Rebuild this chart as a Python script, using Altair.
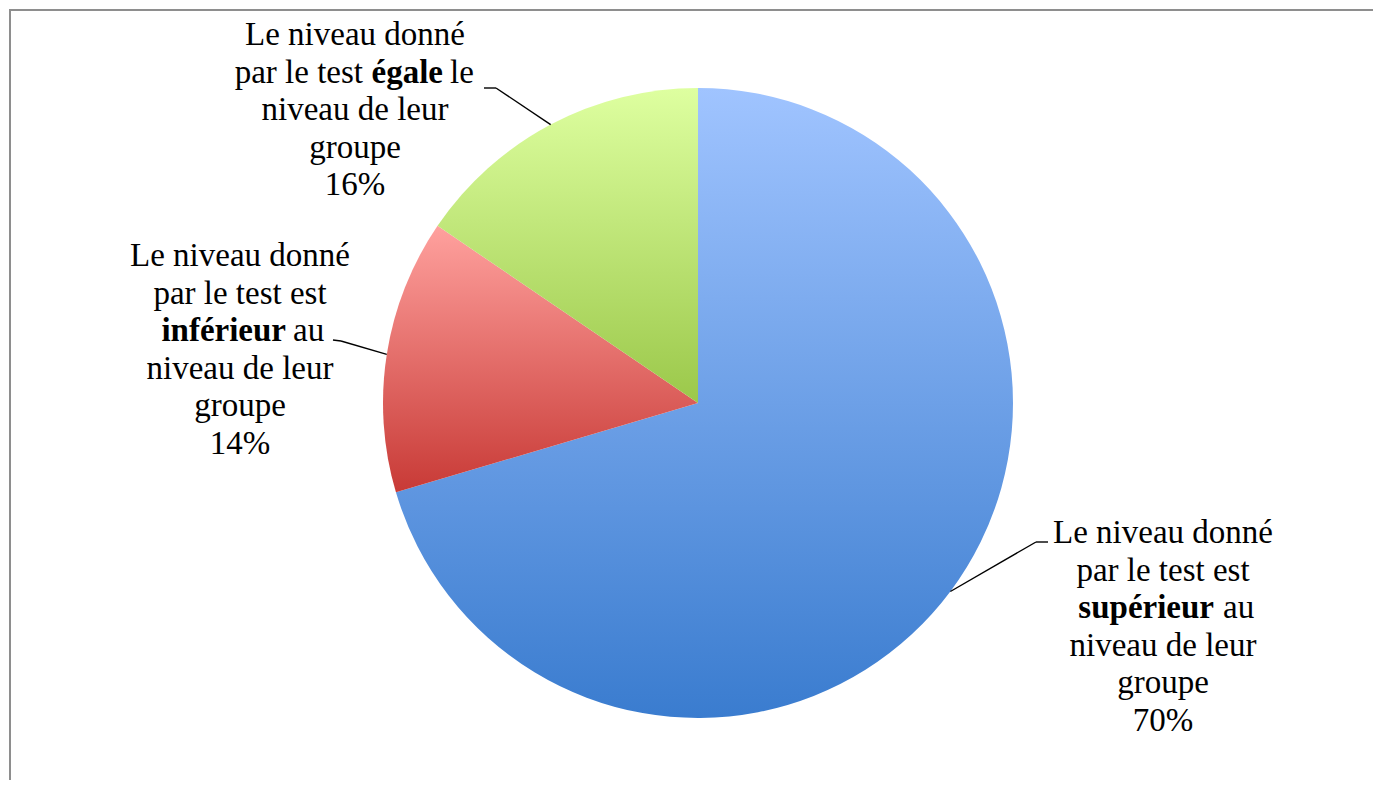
import altair as alt
import pandas as pd

# ---- data ----
categories = ["supérieur", "inférieur", "égale"]
values = [50, 10, 11]  # counts (70.4%, 14.1%, 15.5%)
percent_labels = ["70%", "14%", "16%"]

# label text, line by line; each line is a list of (fragment, bold)
label_lines = {
    "supérieur": [
        [("Le niveau donné", False)],
        [("par le test est", False)],
        [("supérieur", True), ("au", False)],
        [("niveau de leur", False)],
        [("groupe", False)],
    ],
    "inférieur": [
        [("Le niveau donné", False)],
        [("par le test est", False)],
        [("inférieur", True), ("au", False)],
        [("niveau de leur", False)],
        [("groupe", False)],
    ],
    "égale": [
        [("Le niveau donné", False)],
        [("par le test", False), ("égale", True), ("le", False)],
        [("niveau de leur", False)],
        [("groupe", False)],
    ],
}

# ---- layout (chart pixel coordinates) ----
CX, CY, R = 689, 395, 315
FONT = "Liberation Serif"
FS = 33
LH = 37.5
TOTAL = sum(values)
layout = {
    "supérieur": dict(cx=1154, y0=535, split={2: [(1205, "right"), (1214, "left")]},
                      elbow=(1027, 534), end=(1039, 534)),
    "inférieur": dict(cx=231, y0=258, split={2: [(277, "right"), (284, "left")]},
                      elbow=(332, 333), end=(324, 332)),
    "égale": dict(cx=346, y0=37, split={1: [(354, "right"), (434, "right"), (441, "left")]},
                  elbow=(487, 80), end=(475, 80)),
}
grads = {
    "supérieur": ("#a0c4ff", "#3a7ccf"),
    "inférieur": ("#ffa19e", "#c83a36"),
    "égale": ("#deffa0", "#9bc84a"),
}

df = pd.DataFrame({"cat": categories, "value": values, "order": list(range(len(categories)))})

base = alt.Chart(df).transform_stack(
    stack="value", as_=["v0", "v1"], groupby=[], sort=[alt.SortField("order")]
)
theta_scale = alt.Scale(domain=[0, TOTAL])

layers = []
for c in categories:
    top, bot = grads[c]
    g = alt.LinearGradient(
        gradient="linear",
        stops=[alt.GradientStop(color=top, offset=0), alt.GradientStop(color=bot, offset=1)],
        x1=0, x2=0, y1=0, y2=1,
    )
    layers.append(
        base.transform_filter(alt.datum.cat == c)
        .mark_arc(radius=R, fill=g, stroke=None)
        .encode(
            theta=alt.Theta("v0:Q", scale=theta_scale),
            theta2="v1:Q",
            x=alt.value(CX),
            y=alt.value(CY),
        )
    )

# leader lines: elbow -> arc edge at slice mid-angle (computed from data)
lead = pd.DataFrame({
    "cat": categories,
    "ex": [layout[c]["elbow"][0] for c in categories],
    "ey": [layout[c]["elbow"][1] for c in categories],
    "tx": [layout[c]["end"][0] for c in categories],
    "ty": [layout[c]["end"][1] for c in categories],
})
diag = (
    base.transform_lookup(lookup="cat", from_=alt.LookupData(lead, "cat", ["ex", "ey"]))
    .transform_calculate(
        ang=f"(datum.v0 + datum.v1) / 2 / {TOTAL} * 2 * PI",
        px=f"{CX} + {R} * sin(datum.ang)",
        py=f"{CY} - {R} * cos(datum.ang)",
    )
    .mark_rule(color="black", strokeWidth=1.4)
    .encode(
        x=alt.X("ex:Q", scale=None),
        y=alt.Y("ey:Q", scale=None),
        x2="px:Q",
        y2="py:Q",
    )
)
horiz = alt.Chart(lead).mark_rule(color="black", strokeWidth=1.4).encode(
    x=alt.X("ex:Q", scale=None), y=alt.Y("ey:Q", scale=None), x2="tx:Q", y2="ty:Q"
)

# text fragments
rows = []
for c, pct in zip(categories, percent_labels):
    L = layout[c]
    lines = label_lines[c] + [[(pct, False)]]
    for i, line in enumerate(lines):
        y = L["y0"] + i * LH
        if i in L["split"]:
            for (txt, bold), (x, al) in zip(line, L["split"][i]):
                rows.append(dict(text=txt, x=x, y=y, align=al, bold=bold))
        else:
            for txt, bold in line:
                rows.append(dict(text=txt, x=L["cx"], y=y, align="center", bold=bold))
tdf = pd.DataFrame(rows)

for al in ["center", "left", "right"]:
    for bold in [False, True]:
        sub = tdf[(tdf["align"] == al) & (tdf["bold"] == bold)]
        if len(sub) == 0:
            continue
        layers.append(
            alt.Chart(sub).mark_text(
                align=al, baseline="alphabetic", font=FONT, fontSize=FS,
                fontWeight="bold" if bold else "normal", color="black",
            ).encode(x=alt.X("x:Q", scale=None), y=alt.Y("y:Q", scale=None), text="text:N")
        )

# frame (top and left border)
frame_top = alt.Chart(pd.DataFrame({"a": [0]})).mark_rule(color="#8e8e8e", strokeWidth=2).encode(
    x=alt.value(0), x2=alt.value(1365), y=alt.value(2)
)
frame_left = alt.Chart(pd.DataFrame({"a": [0]})).mark_rule(color="#8e8e8e", strokeWidth=2).encode(
    x=alt.value(1), y=alt.value(1), y2=alt.value(772)
)

chart = alt.layer(*layers, diag, horiz, frame_top, frame_left).properties(
    width=1365, height=772, padding=0,
    autosize=alt.AutoSizeParams(type="fit", contains="padding"),
).configure_view(stroke=None)

chart.save("out.html", embed_options={"renderer": "svg", "actions": False})
